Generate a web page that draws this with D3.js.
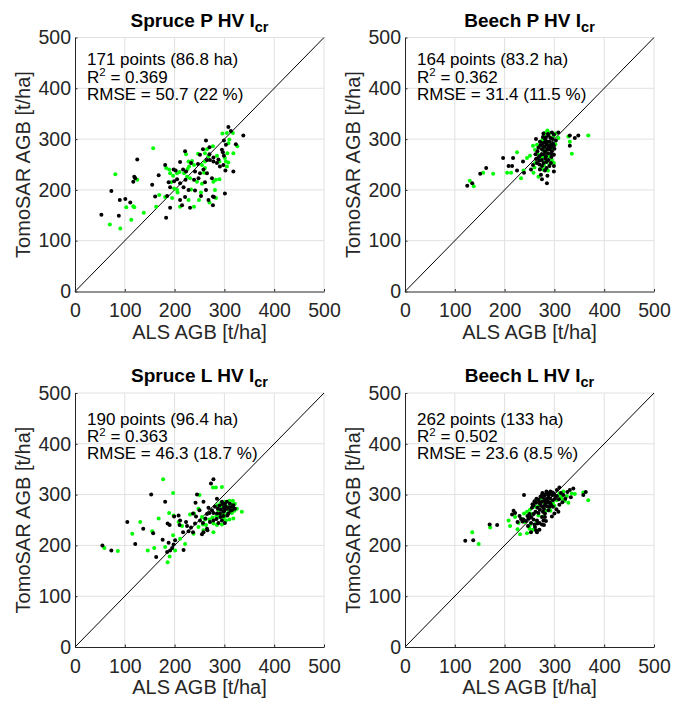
<!DOCTYPE html>
<html>
<head>
	<meta charset="UTF-8">
	<title>AGB scatter</title>
	<script src="https://cdn.jsdelivr.net/npm/d3@7"></script>
	<style>
		body { margin: 0; background: #fff; }
		text { font-family: "Liberation Sans", Arial, sans-serif; }
	</style>
</head>
<body>
<script type="text/javascript">
// ---- data (ALS AGB, TomoSAR AGB) ----
var spruceP_black = [[308,324],[313,316],[338,307],[299,297],[303,289],[323,290],[263,297],[257,280],[270,284],[251,269],[270,270],[278,264],[288,260],[295,279],[297,274],[299,267],[298,249],[125,260],[221,276],[247,251],[265,259],[271,259],[278,256],[285,253],[291,246],[302,238],[318,236],[211,255],[233,253],[181,249],[198,240],[202,238],[217,240],[223,236],[241,236],[251,233],[258,240],[265,233],[119,226],[121,223],[117,216],[168,229],[188,215],[199,217],[205,221],[211,213],[222,220],[239,220],[248,223],[261,215],[275,223],[155,210],[191,205],[218,205],[228,200],[241,199],[263,200],[301,193],[73,198],[161,187],[185,188],[211,180],[221,186],[253,188],[268,180],[277,187],[279,186],[90,180],[101,182],[111,175],[191,165],[215,170],[231,165],[277,170],[53,151],[88,149],[183,145]];
var spruceP_green = [[296,311],[305,312],[317,312],[310,299],[308,292],[326,286],[265,280],[277,286],[157,282],[247,271],[261,272],[268,266],[285,267],[301,263],[306,272],[318,272],[303,256],[308,254],[223,270],[255,249],[261,256],[290,256],[305,246],[228,256],[235,257],[183,243],[189,240],[191,233],[205,233],[197,228],[210,235],[219,233],[226,241],[229,246],[239,249],[259,234],[261,243],[81,231],[125,220],[193,215],[225,226],[231,223],[245,216],[255,212],[278,216],[283,220],[290,221],[199,203],[205,200],[233,201],[253,195],[281,200],[169,190],[181,186],[195,184],[206,195],[228,180],[270,175],[283,184],[117,168],[119,166],[103,166],[163,167],[211,167],[239,167],[249,180],[138,155],[70,132],[91,124],[113,141]];

var beechP_black = [[331,307],[341,302],[348,307],[308,313],[295,313],[299,309],[278,311],[288,307],[263,300],[271,295],[281,300],[290,295],[297,292],[303,297],[285,289],[293,284],[299,287],[275,280],[281,276],[290,280],[266,276],[270,266],[263,261],[283,266],[293,271],[299,269],[275,259],[288,259],[265,253],[278,253],[275,247],[290,247],[299,247],[271,240],[281,238],[299,236],[331,287],[197,263],[217,263],[208,247],[215,247],[225,238],[237,256],[239,234],[253,240],[257,249],[163,243],[151,232],[135,213],[125,208],[275,221],[285,213],[276,292],[284,296],[292,302],[280,285],[287,272],[272,288],[295,276],[268,283],[282,262],[294,265],[279,270],[286,280],[277,304],[292,288],[270,258],[300,281],[262,270],[284,243],[273,230],[286,228],[283,303],[287,310],[296,300],[280,293],[288,283],[275,270],[284,255],[270,250],[293,253],[278,285],[266,262]];
var beechP_green = [[368,307],[328,305],[331,295],[335,271],[286,317],[281,312],[291,312],[298,305],[303,311],[308,302],[265,289],[257,287],[261,279],[271,286],[278,279],[283,272],[288,266],[295,259],[299,253],[285,256],[279,249],[225,274],[251,267],[261,253],[271,241],[278,240],[258,234],[268,226],[238,238],[233,223],[205,234],[213,234],[177,232],[157,234],[130,218],[138,207],[289,293],[276,298],[296,284],[267,270],[302,290],[283,258],[290,249],[287,238],[260,244],[245,263],[273,262],[280,305],[293,280],[285,272],[276,265]];

var spruceL_black = [[278,330],[273,322],[245,300],[153,300],[181,286],[242,284],[258,286],[285,292],[295,286],[301,282],[305,286],[311,282],[318,279],[321,272],[315,269],[305,272],[298,266],[291,263],[285,263],[278,264],[275,269],[308,263],[299,274],[295,249],[301,244],[288,244],[278,249],[271,246],[270,264],[268,274],[250,269],[237,263],[243,257],[251,249],[257,244],[265,233],[258,226],[105,246],[137,233],[157,224],[186,243],[190,240],[199,257],[208,259],[211,249],[210,240],[223,246],[225,238],[228,228],[233,235],[237,226],[241,243],[255,222],[266,230],[121,203],[55,200],[73,190],[163,177],[176,211],[188,205],[195,195],[198,202],[191,190],[185,187],[218,191],[217,226],[201,210],[290,278],[296,281],[303,276],[310,275],[316,276],[312,268],[300,268],[293,270],[287,272],[281,276],[306,259],[292,256],[284,252],[298,258],[265,262],[262,253]];
var spruceL_green = [[177,330],[277,314],[283,314],[295,315],[197,303],[250,299],[301,286],[310,288],[317,288],[321,282],[285,279],[295,276],[305,277],[313,274],[189,264],[168,253],[131,246],[115,223],[155,228],[198,259],[208,246],[231,261],[239,263],[248,272],[255,256],[261,251],[257,241],[263,240],[278,226],[270,251],[288,256],[298,253],[303,249],[310,251],[318,253],[288,269],[298,264],[306,263],[315,264],[335,266],[278,243],[285,240],[295,241],[215,238],[197,220],[211,213],[221,203],[146,190],[159,195],[181,197],[190,178],[186,167],[201,190],[59,195],[86,189],[238,223],[248,236],[258,230],[292,283],[300,280],[308,270],[316,280],[320,268],[302,258],[294,262],[284,258],[276,255],[325,272]];

var beechL_black = [[121,209],[137,210],[170,241],[185,240],[239,299],[218,268],[221,264],[215,261],[238,251],[243,248],[248,253],[253,256],[258,251],[265,249],[270,244],[275,241],[278,249],[281,256],[288,269],[285,277],[291,284],[297,289],[299,302],[305,309],[310,314],[318,299],[326,305],[331,309],[338,312],[333,295],[358,299],[363,305],[308,266],[261,236],[270,231],[265,226],[253,226],[271,282],[280,288],[285,292],[288,295],[283,301],[278,294],[275,299],[268,290],[263,284],[258,279],[255,274],[266,274],[271,270],[277,266],[281,263],[291,292],[295,299],[290,303],[301,292],[305,297],[313,303],[275,286],[281,279],[290,276],[286,286],[278,276],[268,264],[275,256],[266,243],[272,296],[276,303],[280,298],[284,306],[288,300],[292,306],[296,304],[300,299],[286,290],[289,284],[293,280],[297,276],[282,284],[279,272],[273,278],[269,285],[264,292],[260,287],[256,281],[262,266],[258,262],[250,262],[246,258],[236,247],[230,258],[233,252],[226,246],[253,244],[247,238],[260,241],[263,230],[279,240],[283,248],[295,257],[300,263],[304,271],[310,280],[316,285],[322,292],[309,291]];
var beechL_green = [[135,226],[171,235],[148,203],[208,249],[211,238],[221,256],[228,244],[231,222],[245,224],[250,233],[257,231],[251,240],[239,263],[245,266],[251,270],[257,277],[261,276],[268,277],[268,259],[277,257],[283,268],[290,274],[297,284],[305,289],[310,302],[315,292],[321,288],[328,284],[325,297],[335,302],[341,301],[358,304],[368,289],[262,285],[266,290],[273,292],[280,283],[292,268],[300,278],[312,296],[318,306],[235,252],[240,246],[226,232],[264,248],[254,262]];

var titles = ["Spruce P HV I", "Beech P HV I", "Spruce L HV I", "Beech L HV I"];
var pointText = ["171 points (86.8 ha)", "164 points (83.2 ha)", "190 points (96.4 ha)", "262 points (133 ha)"];
var r2Text = ["0.369", "0.362", "0.363", "0.502"];
var rmseText = ["50.7 (22 %)", "31.4 (11.5 %)", "46.3 (18.7 %)", "23.6 (8.5 %)"];
var tickValues = [0, 100, 200, 300, 400, 500];

var blackSets = [spruceP_black, beechP_black, spruceL_black, beechL_black];
var greenSets = [spruceP_green, beechP_green, spruceL_green, beechL_green];

// ---- layout ----
var W = 681, H = 702;
var svg = d3.select("body").append("svg").attr("width", W).attr("height", H);

var colX = [75, 405];
var rowY = [37.5, 393];
var pw = 249, ph = 254;
var axisCol = "#262626";

function drawPanel(i) {
	var px = colX[i % 2], py = rowY[Math.floor(i / 2)];
	var x = d3.scaleLinear().domain([0, 500]).range([px, px + pw]);
	var y = d3.scaleLinear().domain([0, 500]).range([py + ph, py]);
	var g = svg.append("g");

	// grid
	g.selectAll(".gx").data(tickValues.slice(1)).enter().append("line")
		.attr("x1", d => x(d)).attr("x2", d => x(d))
		.attr("y1", y(0)).attr("y2", y(500))
		.attr("stroke", "#e1e1e1").attr("stroke-width", 1);
	g.selectAll(".gy").data(tickValues.slice(1)).enter().append("line")
		.attr("x1", x(0)).attr("x2", x(500))
		.attr("y1", d => y(d)).attr("y2", d => y(d))
		.attr("stroke", "#e1e1e1").attr("stroke-width", 1);

	// 1:1 line
	g.append("line")
		.attr("x1", x(0)).attr("y1", y(0))
		.attr("x2", x(500)).attr("y2", y(500))
		.attr("stroke", "#000").attr("stroke-width", 1);

	// points: green first, black on top
	g.selectAll(".pg").data(greenSets[i]).enter().append("circle")
		.attr("cx", d => x(d[0])).attr("cy", d => y(d[1]))
		.attr("r", 2).attr("fill", "#00ff00");
	g.selectAll(".pk").data(blackSets[i]).enter().append("circle")
		.attr("cx", d => x(d[0])).attr("cy", d => y(d[1]))
		.attr("r", 2).attr("fill", "#000");

	// axes (ticks inward)
	var xa = g.append("g").attr("transform", "translate(0," + y(0) + ")")
		.call(d3.axisBottom(x).tickValues(tickValues).tickSizeInner(-2.5).tickSizeOuter(0).tickPadding(8));
	var ya = g.append("g").attr("transform", "translate(" + x(0) + ",0)")
		.call(d3.axisLeft(y).tickValues(tickValues).tickSizeInner(-2.5).tickSizeOuter(0).tickPadding(6));
	[xa, ya].forEach(function (a) {
		a.select(".domain").attr("stroke", axisCol);
		a.selectAll(".tick line").attr("stroke", axisCol);
		a.selectAll("text").attr("fill", axisCol)
			.style("font-size", "19.5px")
			.style("font-family", "'Liberation Sans', Arial, sans-serif");
	});
	xa.selectAll("text").attr("dy", null).attr("y", 25.5);
	ya.selectAll("text").attr("x", -4);

	// title with subscript
	var t = g.append("text")
		.attr("x", x(250)).attr("y", py - 11)
		.attr("text-anchor", "middle")
		.style("font-size", "19px").style("font-weight", "bold").attr("fill", "#000")
		.text(titles[i]);
	t.append("tspan").attr("dy", 5).style("font-size", "14.5px").text("cr");

	// annotation block
	var ty = py + (i < 2 ? 27.5 : 31.5);
	var ax = x(0) + 12;
	g.append("text").attr("x", ax).attr("y", ty).style("font-size", "17px").attr("fill", "#000").text(pointText[i]);
	var r2 = g.append("text").attr("x", ax).attr("y", ty + 17.5).style("font-size", "17px").attr("fill", "#000");
	r2.append("tspan").text("R");
	r2.append("tspan").attr("dy", -6.5).style("font-size", "11.5px").text("2");
	r2.append("tspan").attr("dy", 6.5).text(" = " + r2Text[i]);
	g.append("text").attr("x", ax).attr("y", ty + 34.5).style("font-size", "17px").attr("fill", "#000").text("RMSE = " + rmseText[i]);

	// axis labels
	g.append("text").attr("x", x(250)).attr("y", y(0) + 47)
		.attr("text-anchor", "middle").style("font-size", "20px").attr("fill", axisCol)
		.text("ALS AGB [t/ha]");
	g.append("text")
		.attr("transform", "translate(" + (px - 45) + "," + y(250) + ") rotate(-90)")
		.attr("text-anchor", "middle").style("font-size", "20px").attr("fill", axisCol)
		.text("TomoSAR AGB [t/ha]");
}

for (var i = 0; i < 4; i++) drawPanel(i);
</script>
</body>
</html>
